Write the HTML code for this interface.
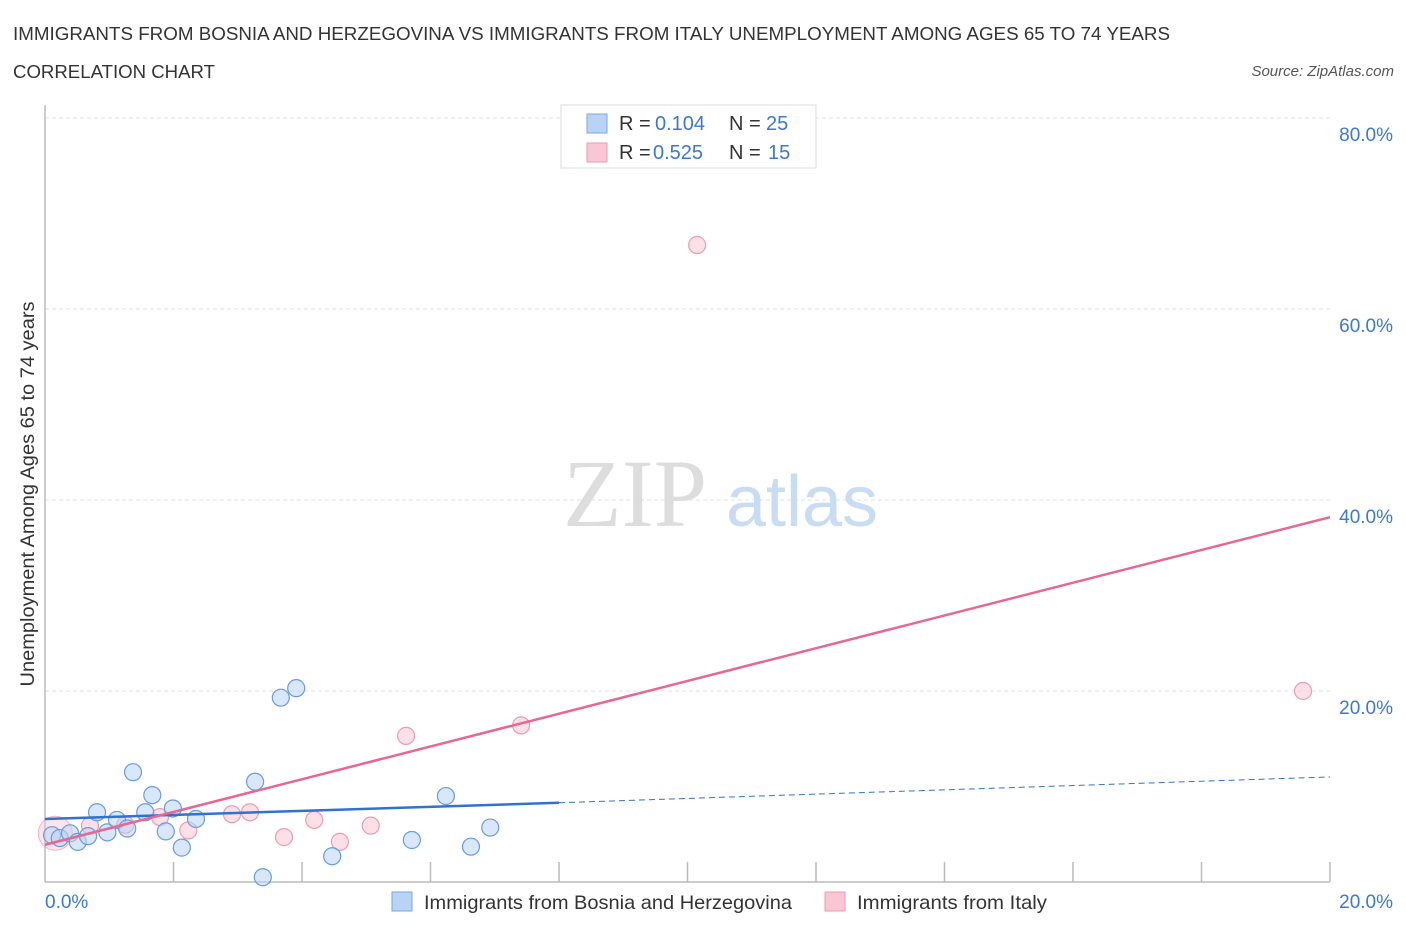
<!DOCTYPE html>
<html><head><meta charset="utf-8"><style>
body{margin:0;background:#fff;font-family:"Liberation Sans",sans-serif;}
</style></head><body>
<svg width="1406" height="930" xmlns="http://www.w3.org/2000/svg" font-family="Liberation Sans, sans-serif">
<text x="13" y="40" font-size="18" fill="#333" textLength="1157" lengthAdjust="spacingAndGlyphs">IMMIGRANTS FROM BOSNIA AND HERZEGOVINA VS IMMIGRANTS FROM ITALY UNEMPLOYMENT AMONG AGES 65 TO 74 YEARS</text>
<text x="13" y="78" font-size="18" fill="#333" textLength="202" lengthAdjust="spacingAndGlyphs">CORRELATION CHART</text>
<text x="1394" y="76" font-size="15" fill="#555" font-style="italic" text-anchor="end">Source: ZipAtlas.com</text>
<g id="grid"></g>
<g><text x="635" y="526" font-size="96" font-family="Liberation Serif, serif" fill="#ddd" text-anchor="middle">ZIP</text><text x="802" y="526" font-size="72" fill="#c8dcf2" text-anchor="middle">atlas</text></g>
<line x1="45" y1="105" x2="45" y2="882" stroke="#bbb" stroke-width="1.5"/>
<line x1="45" y1="882" x2="1330" y2="882" stroke="#bbb" stroke-width="1.5"/>
<g id="ticks"></g>
<g id="ylabels"></g>
<text x="45" y="908" font-size="19" fill="#3a78d4" text-anchor="start">0.0%</text>
<text x="1393" y="908" font-size="19" fill="#3a78d4" text-anchor="end">20.0%</text>
<text transform="translate(34,494) rotate(-90)" font-size="19" fill="#333" text-anchor="middle" textLength="385" lengthAdjust="spacingAndGlyphs">Unemployment Among Ages 65 to 74 years</text>
<g id="pts"></g>
<g id="lines"></g>
<g>
<rect x="561" y="105" width="255" height="63" fill="#fff" stroke="#ddd"/>
<rect x="587" y="114" width="20" height="19" fill="#b9d3f5" stroke="#7aa7e0"/>
<rect x="587" y="143" width="20" height="19" fill="#f9c6d5" stroke="#ec9ab3"/>
<text x="619" y="130" font-size="20" fill="#333">R =</text><text x="655" y="130" font-size="20" fill="#3a78d4">0.104</text>
<text x="729" y="130" font-size="20" fill="#333">N =</text><text x="766" y="130" font-size="20" fill="#3a78d4">25</text>
<text x="619" y="159" font-size="20" fill="#333">R =</text><text x="653" y="159" font-size="20" fill="#3a78d4">0.525</text>
<text x="729" y="159" font-size="20" fill="#333">N =</text><text x="768" y="159" font-size="20" fill="#3a78d4">15</text>
</g>
<g>
<rect x="392" y="892" width="20" height="19" fill="#b9d3f5" stroke="#7aa7e0"/>
<text x="424" y="909" font-size="19.5" fill="#333" textLength="368" lengthAdjust="spacingAndGlyphs">Immigrants from Bosnia and Herzegovina</text>
<rect x="825" y="892" width="20" height="19" fill="#f9c6d5" stroke="#ec9ab3"/>
<text x="857" y="909" font-size="19.5" fill="#333" textLength="190" lengthAdjust="spacingAndGlyphs">Immigrants from Italy</text>
</g>
</svg>
<script>
const yTicks=[20,40,60,80];
const yTickLabels=["20.0%","40.0%","60.0%","80.0%"];
const xTicks=[2,4,6,8,10,12,14,16,18,20];
const bosniaX=[0.11,0.23,0.39,0.51,0.67,0.81,0.97,1.12,1.28,1.37,1.56,1.67,1.88,1.99,2.13,2.35,3.27,3.39,3.67,3.91,4.47,5.71,6.24,6.63,6.93];
const bosniaY=[4.9,4.6,5.1,4.2,4.8,7.3,5.2,6.5,5.6,11.5,7.3,9.1,5.3,7.7,3.6,6.6,10.5,0.5,19.3,20.3,2.7,4.4,9.0,3.7,5.7];
const italyX=[0.16,0.70,1.25,1.79,2.23,2.91,3.19,3.72,4.19,4.59,5.07,5.62,7.41,10.15,19.58];
const italyY=[5.1,5.9,6.0,6.8,5.4,7.1,7.3,4.7,6.5,4.2,5.9,15.3,16.4,66.7,20.0];
const bosniaTrend=[6.6,8.3,11.0];
const bosniaTrendX=[0,8,20];
const italyTrend=[3.9,38.2];
const italyTrendX=[0,20];
const X=v=>45+v*64.25, Y=v=>882-v*9.55;
const NS="http://www.w3.org/2000/svg";
function mk(t,a,p){const e=document.createElementNS(NS,t);for(const k in a)e.setAttribute(k,a[k]);p.appendChild(e);return e;}
const grid=document.getElementById('grid'),ticks=document.getElementById('ticks'),yl=document.getElementById('ylabels');
yTicks.forEach((v,i)=>{const l=mk('line',{x1:45,x2:1330,y1:Y(v),y2:Y(v),stroke:'#e2e2e2','stroke-dasharray':'4,3'},grid);


const t=mk('text',{x:1393,y:Y(v)+23,'font-size':19,fill:'#3a78d4','text-anchor':'end'},yl);t.textContent=yTickLabels[i];

});
xTicks.forEach(v=>{const l=mk('line',{x1:X(v),x2:X(v),y1:862,y2:882,stroke:'#bbb','stroke-width':1.5},ticks);

});
const pts=document.getElementById('pts');
const big=mk('circle',{cx:X(0.16),cy:Y(5.1),r:17,fill:'rgba(249,198,213,0.45)',stroke:'rgba(236,154,179,0.7)'},pts);


italyX.forEach((x,i)=>{if(i===0)return;const c=mk('circle',{cx:X(x),cy:Y(italyY[i]),r:8.5,fill:'rgba(249,198,213,0.55)',stroke:'#ec9ab3','stroke-width':1.2},pts);

});
bosniaX.forEach((x,i)=>{const c=mk('circle',{cx:X(x),cy:Y(bosniaY[i]),r:8.5,fill:'rgba(185,211,245,0.55)',stroke:'#6a9be0','stroke-width':1.2},pts);

});
const ln=document.getElementById('lines');
let a=mk('line',{x1:X(bosniaTrendX[0]),y1:Y(bosniaTrend[0]),x2:X(bosniaTrendX[1]),y2:Y(bosniaTrend[1]),stroke:'#2f72d0','stroke-width':2.5},ln);


a=mk('line',{x1:X(bosniaTrendX[1]),y1:Y(bosniaTrend[1]),x2:X(bosniaTrendX[2]),y2:Y(bosniaTrend[2]),stroke:'#2f72d0','stroke-width':1,'stroke-dasharray':'6,4'},ln);


a=mk('line',{x1:X(italyTrendX[0]),y1:Y(italyTrend[0]),x2:X(italyTrendX[1]),y2:Y(italyTrend[1]),stroke:'#e8668f','stroke-width':2.5},ln);


</script>
</body></html>
